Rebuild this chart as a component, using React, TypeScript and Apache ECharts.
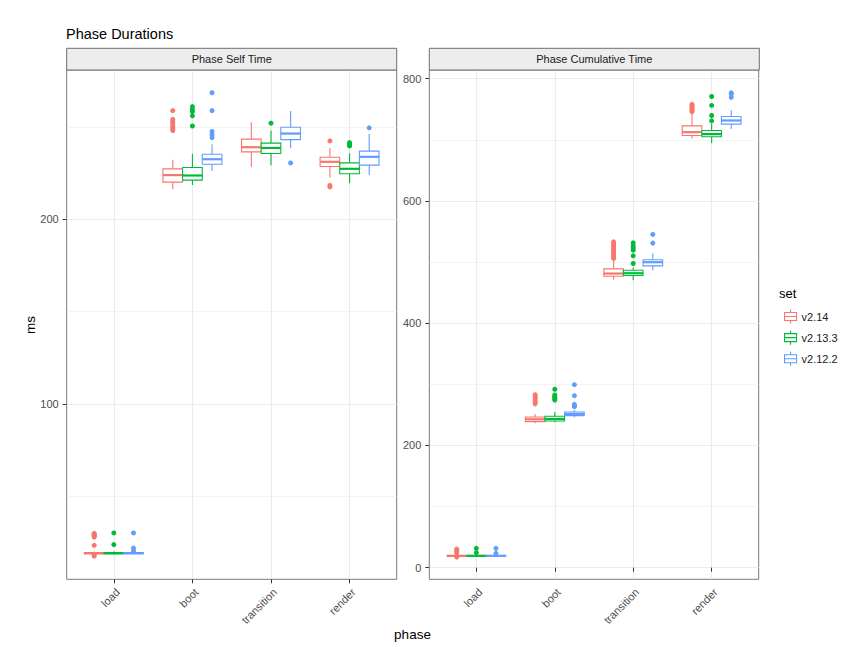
import { useEffect, useRef } from 'react';
import * as echarts from 'echarts';

const phases = ['load', 'boot', 'transition', 'render'];
const sets = ['v2.14', 'v2.13.3', 'v2.12.2'];
const setColors = ['#F8766D', '#00BA38', '#619CFF'];

// box stats per phase: [lower whisker, Q1, median, Q3, upper whisker]
const selfV214 = [[18.5, 19, 19.2, 19.6, 20.2], [216.3, 220.1, 223.9, 227.3, 232.2], [228.4, 236.5, 239.0, 243.4, 252.5], [222.6, 228.6, 231.1, 233.6, 238.6]];
const selfV2133 = [[18.7, 19, 19.2, 19.6, 20.1], [218.5, 221.2, 223.7, 228.0, 235.4], [229.3, 235.6, 238.6, 241.2, 248.0], [219.6, 224.6, 227.3, 230.5, 235.8]];
const selfV2122 = [[18.7, 19, 19.2, 19.6, 20.1], [226.1, 229.8, 232.5, 235.2, 240.6], [238.4, 243.1, 246.4, 249.8, 258.6], [223.9, 229.3, 233.8, 236.9, 246.1]];

// outliers per phase
const selfV214Out = [[17.7, 18.2, 23.5, 28, 28.5, 29, 29.5, 30], [248, 249, 250, 251, 252, 253, 254, 258.8], [], [217.5, 218.3, 242.4]];
const selfV2133Out = [[23.9, 30.2], [250.5, 256, 258.3, 259.5, 261], [252], [239.7, 240.2, 240.8, 241.5]];
const selfV2122Out = [[20.4, 22.0, 30.2], [244.2, 245.7, 247.5, 258.8, 268.5], [230.5], [249.5]];

const cumV214 = [[18.5, 19, 19.4, 19.8, 20.5], [236.2, 238.9, 242.8, 246.5, 251], [471.4, 476.8, 481.2, 488.8, 503.1], [701.6, 707.1, 712.5, 722.8, 744.4]];
const cumV2133 = [[18.8, 19.2, 19.5, 19.8, 20.4], [237.9, 240.0, 243.3, 247.7, 254.7], [470.3, 478.0, 481.7, 486.7, 491.1], [694.3, 704.9, 709.3, 715.3, 726.7]];
const cumV2122 = [[18.8, 19.2, 19.5, 19.8, 20.4], [246, 248.7, 251.5, 254.7, 258], [486.7, 493.8, 499.8, 503.7, 514], [717.8, 725.6, 731.6, 738.2, 748.4]];

const cumV214Out = [[17.5, 24, 26.5, 28.5, 30.5], [268, 271, 274, 277, 280, 283], [506, 509, 512, 515, 518, 521, 524, 527, 530, 533], [746, 748, 750, 752, 754, 756, 758]];
const cumV2133Out = [[24.6, 31.7], [274.3, 276.5, 278.5, 280.5, 282.5, 291.9], [497.7, 510.2, 519.4, 523, 526.5, 531.4], [731.1, 739.8, 756.2, 770.9]];
const cumV2122Out = [[23.5, 31.7], [263.4, 265.5, 267.3, 281.4, 299.4], [531, 545.2], [769.3, 775, 776.8]];

const selfTicks = [100, 200];
const selfMinor = [50, 150, 250];
const cumTicks = [0, 200, 400, 600, 800];
const cumMinor = [100, 300, 500, 700];
const phaseTicks = [1, 2, 3, 4];

const FONT = '"Liberation Sans", Arial, Helvetica, sans-serif';
const BOX_W = 0.25;
const offsets = [-0.25, 0, 0.25];
const GRID_LINE = '#ebebeb';
const BORDER = '#7a7a7a';

const PANEL_TOP = 70;
const PANEL_H = 509.3;
const LEFT_X = 66.7;
const RIGHT_X = 429.3;
const PANEL_W = 330;

function boxSeries(stats: number[][], s: number, panel: number) {
  const color = setColors[s];
  return {
    type: 'custom',
    name: sets[s],
    xAxisIndex: panel,
    yAxisIndex: panel * 2,
    data: stats.map((b, i) => [i + 1, ...b]),
    encode: { x: 0, y: [1, 2, 3, 4, 5] },
    itemStyle: { color },
    z: 2,
    renderItem: (_params: any, api: any) => {
      const x = api.value(0) + offsets[s];
      const w = api.size([BOX_W, 0])[0];
      const cx = api.coord([x, api.value(3)])[0];
      const yMin = api.coord([x, api.value(1)])[1];
      const yQ1 = api.coord([x, api.value(2)])[1];
      const yMed = api.coord([x, api.value(3)])[1];
      const yQ3 = api.coord([x, api.value(4)])[1];
      const yMax = api.coord([x, api.value(5)])[1];
      return {
        type: 'group',
        children: [
          { type: 'line', shape: { x1: cx, y1: yQ3, x2: cx, y2: yMax }, style: { stroke: color, lineWidth: 1.1 } },
          { type: 'line', shape: { x1: cx, y1: yQ1, x2: cx, y2: yMin }, style: { stroke: color, lineWidth: 1.1 } },
          { type: 'rect', shape: { x: cx - w / 2, y: yQ3, width: w, height: Math.max(yQ1 - yQ3, 0.5) }, style: { fill: '#ffffff', stroke: color, lineWidth: 1.1 } },
          { type: 'line', shape: { x1: cx - w / 2, y1: yMed, x2: cx + w / 2, y2: yMed }, style: { stroke: color, lineWidth: 2.2 } },
        ],
      };
    },
  };
}

function outlierSeries(outs: number[][], s: number, panel: number) {
  const data: number[][] = [];
  outs.forEach((vals, i) => vals.forEach((v) => data.push([i + 1 + offsets[s], v])));
  return {
    type: 'scatter',
    name: sets[s],
    xAxisIndex: panel,
    yAxisIndex: panel * 2,
    data,
    symbolSize: 5,
    itemStyle: { color: setColors[s], opacity: 1 },
    z: 3,
  };
}

function xAxisFor(panel: number) {
  return {
    type: 'value',
    gridIndex: panel,
    min: 0.4,
    max: 4.6,
    axisLine: { show: false },
    axisTick: { show: true, length: 4, customValues: phaseTicks, lineStyle: { color: '#333333', width: 1 } },
    axisLabel: {
      customValues: phaseTicks,
      formatter: (v: number) => phases[Math.round(v) - 1] ?? '',
      rotate: 45,
      margin: 7,
      verticalAlign: 'top',
      color: '#4d4d4d',
      fontSize: 11,
      fontFamily: FONT,
    },
    splitLine: { show: true, lineStyle: { color: GRID_LINE, width: 1.1 } },
  };
}

function yAxesFor(panel: number, min: number, max: number, ticks: number[], minor: number[]) {
  return [
    {
      type: 'value',
      gridIndex: panel,
      min,
      max,
      position: 'left',
      axisLine: { show: false },
      axisTick: { show: true, length: 4, customValues: ticks, lineStyle: { color: '#333333', width: 1 } },
      axisLabel: { customValues: ticks, margin: 8, color: '#4d4d4d', fontSize: 11, fontFamily: FONT },
      splitLine: { show: true, lineStyle: { color: GRID_LINE, width: 1.1 } },
    },
    {
      type: 'value',
      gridIndex: panel,
      min,
      max,
      position: 'right',
      axisLine: { show: false },
      axisTick: { show: false, customValues: minor },
      axisLabel: { show: false },
      splitLine: { show: true, lineStyle: { color: GRID_LINE, width: 0.6 } },
    },
  ];
}

function strip(x: number, label: string) {
  return [
    { type: 'rect', shape: { x, y: 48.3, width: PANEL_W, height: PANEL_TOP - 48.3 }, style: { fill: '#ededed', stroke: '#6e6e6e', lineWidth: 1 }, z: 10 },
    { type: 'text', x: x + PANEL_W / 2, y: 59.3, style: { text: label, fill: '#1a1a1a', fontSize: 11, fontFamily: FONT, align: 'center', verticalAlign: 'middle' }, z: 11 },
  ];
}

const legendIcon = 'path://M0,3H12V11H0ZM0,7H12M6,0V3M6,11V14';

export default function App() {
  const chartRef = useRef<HTMLDivElement>(null);

  useEffect(() => {
    if (!chartRef.current) return;
    const chart = echarts.init(chartRef.current, undefined, { renderer: 'svg' });

    const selfBoxes = [selfV214, selfV2133, selfV2122];
    const selfOuts = [selfV214Out, selfV2133Out, selfV2122Out];
    const cumBoxes = [cumV214, cumV2133, cumV2122];
    const cumOuts = [cumV214Out, cumV2133Out, cumV2122Out];

    const series: any[] = [];
    sets.forEach((_, s) => {
      series.push(boxSeries(selfBoxes[s], s, 0));
      series.push(outlierSeries(selfOuts[s], s, 0));
      series.push(boxSeries(cumBoxes[s], s, 1));
      series.push(outlierSeries(cumOuts[s], s, 1));
    });

    const option = {
      animation: false,
      backgroundColor: '#ffffff',
      textStyle: { fontFamily: FONT },
      grid: [
        { left: LEFT_X, top: PANEL_TOP, width: PANEL_W, height: PANEL_H, show: true, backgroundColor: '#ffffff', borderColor: BORDER, borderWidth: 1 },
        { left: RIGHT_X, top: PANEL_TOP, width: PANEL_W - 0.6, height: PANEL_H, show: true, backgroundColor: '#ffffff', borderColor: BORDER, borderWidth: 1 },
      ],
      xAxis: [xAxisFor(0), xAxisFor(1)],
      yAxis: [
        ...yAxesFor(0, 5.1, 280.8, selfTicks, selfMinor),
        ...yAxesFor(1, -19, 814.2, cumTicks, cumMinor),
      ],
      legend: {
        orient: 'vertical',
        left: 779,
        top: 304,
        itemWidth: 12,
        itemHeight: 14,
        itemGap: 6,
        selectedMode: false,
        textStyle: { fontSize: 11, color: '#1a1a1a', fontFamily: FONT },
        data: sets.map((name, s) => ({
          name,
          icon: legendIcon,
          itemStyle: { color: 'rgba(0,0,0,0)', borderColor: setColors[s], borderWidth: 1.1 },
        })),
      },
      graphic: [
        { type: 'text', x: 66, y: 34, style: { text: 'Phase Durations', fill: '#000000', fontSize: 14.5, fontFamily: FONT, align: 'left', verticalAlign: 'middle' } },
        ...strip(LEFT_X, 'Phase Self Time'),
        ...strip(RIGHT_X, 'Phase Cumulative Time'),
        { type: 'text', x: 30, y: 325, rotation: Math.PI / 2, style: { text: 'ms', fill: '#000000', fontSize: 13.5, fontFamily: FONT, align: 'center', verticalAlign: 'middle' } },
        { type: 'text', x: 412.5, y: 634, style: { text: 'phase', fill: '#000000', fontSize: 13.5, fontFamily: FONT, align: 'center', verticalAlign: 'middle' } },
        { type: 'text', x: 779, y: 293, style: { text: 'set', fill: '#000000', fontSize: 13, fontFamily: FONT, align: 'left', verticalAlign: 'middle' } },
      ],
      series,
    };

    chart.setOption(option);

    return () => {
      chart.dispose();
    };
  }, []);

  return <div ref={chartRef} style={{ position: 'absolute', left: 0, top: 0, width: 857, height: 647 }} />;
}
